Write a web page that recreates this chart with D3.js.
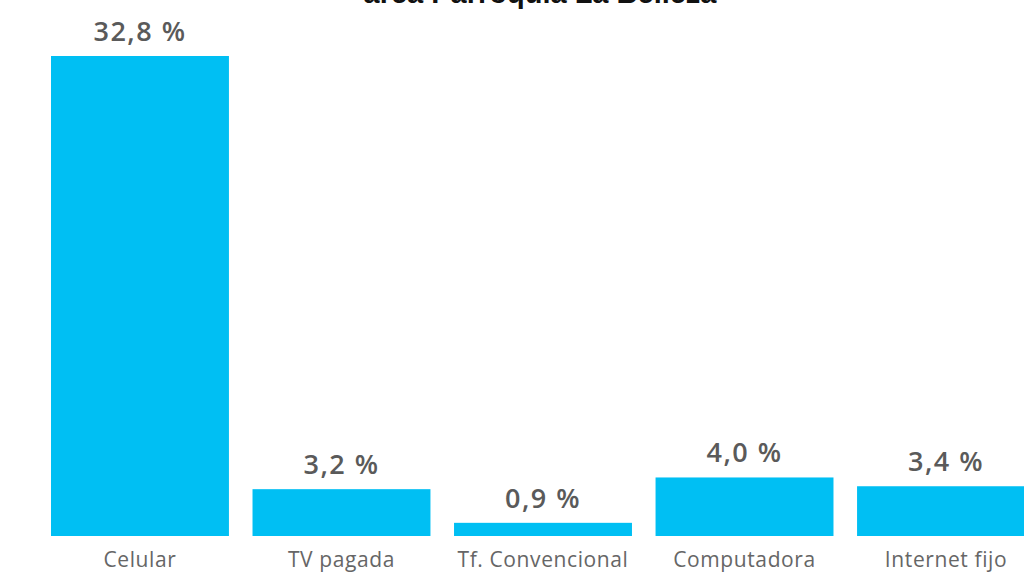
<!DOCTYPE html>
<meta charset="utf-8">
<style>
html, body { margin: 0; padding: 0; background: #fff; }
svg { display: block; }
</style>
<body>
<script src="https://d3js.org/d3.v7.min.js"></script>
<script>

var width = 1024,
    height = 572;

var categories = ["Celular", "TV pagada", "Tf. Convencional", "Computadora", "Internet fijo"];
var values = [32.8, 3.2, 0.9, 4.0, 3.4];
var valueLabels = ["32,8 %", "3,2 %", "0,9 %", "4,0 %", "3,4 %"];
var title = "área Parroquia La Belleza";

var svg = d3.select("body").append("svg")
    .attr("width", width)
    .attr("height", height);

var x = d3.scaleBand()
    .domain(categories)
    .range([51, 1035])
    .paddingInner(0.117)
    .paddingOuter(0);

var y = d3.scaleLinear()
    .domain([0, 32.8])
    .range([536, 56]);

// title (cut off at the top in the original)
svg.append("text")
    .attr("x", 540)
    .attr("y", 3)
    .attr("text-anchor", "middle")
    .style("font-family", "'Liberation Sans', Arial, sans-serif")
    .style("font-weight", "bold")
    .style("font-size", "29px")
    .style("fill", "#111")
    .text(title);

var bars = svg.append("g").attr("class", "bars")
  .selectAll("g")
  .data(categories)
  .enter().append("g");

bars.append("rect")
    .attr("x", function(d) { return x(d); })
    .attr("width", x.bandwidth())
    .attr("y", function(d, i) { return y(values[i]); })
    .attr("height", function(d, i) { return y(0) - y(values[i]); })
    .attr("fill", "#00bff3");

bars.append("text")
    .attr("x", function(d) { return x(d) + x.bandwidth() / 2; })
    .attr("y", function(d, i) { return y(values[i]) - 15; })
    .attr("text-anchor", "middle")
    .style("font-family", "'Open Sans', sans-serif")
    .style("font-weight", "600")
    .style("font-size", "27px")
    .style("letter-spacing", "1.5px")
    .style("fill", "#5a5a5a")
    .text(function(d, i) { return valueLabels[i]; });

bars.append("text")
    .attr("x", function(d) { return x(d) + x.bandwidth() / 2; })
    .attr("y", 567)
    .attr("text-anchor", "middle")
    .style("font-family", "'Open Sans', sans-serif")
    .style("font-size", "21px")
    .style("letter-spacing", "0.6px")
    .style("fill", "#666")
    .text(function(d) { return d; });

</script>
</body>
